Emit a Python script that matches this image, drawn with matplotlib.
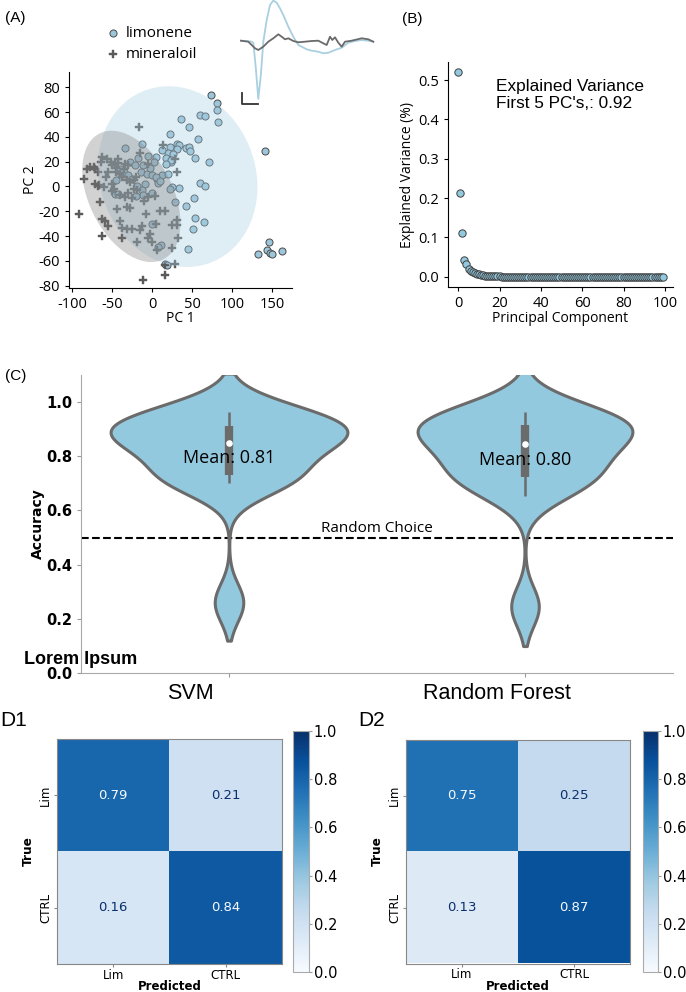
import numpy as np
import matplotlib
matplotlib.use("Agg")
import matplotlib.pyplot as plt
from matplotlib.patches import Ellipse

W, H = 686, 992
plt.rcParams['font.family'] = ['Open Sans', 'DejaVu Sans']
plt.rcParams['axes.unicode_minus'] = False


def box(left, top, w, h):
    # pixel rect (from top-left) -> figure fraction
    return [left / W, 1 - (top + h) / H, w / W, h / H]


# ---------------- panel A data (PCA scores) ----------------
lim_x = [74.2, 81.7, 81.7, 82.6, 36.7, 59.7, 65.9, 45.9, 57.6, 31.7, 33.4, 43.0, 46.3, 48.0,
         54.2, 71.3, 141.7, 60.1, 65.9, 33.8, 52.2, 43.0, 54.2, 65.1, 51.7, 45.1, 146.7, 143.4,
         148.0, 150.1, 132.6, 162.6,
         22.5, -12.9, -33.7, 22.5, 30.9, 19.6, 26.7, 17.1, 23.8, 5.0, 2.9, -17.1, -27.1, -21.2,
         -11.7, -37.9, -35.8, -29.6, -25.4, -13.7, -6.7, -0.4, 5.9, 12.1, 7.9, -19.2, -8.7, 24.6,
         -46.2, -42.1, -12.9, -10.8, 28.8, -0.4, 11.3, 7.9, 16.3, 18.4,
         12.1, 24.2, 17.9, 5.4, 9.6, 22.1, -5.0, -40.0, -45.0, -20.0, -3.0, 0.0, 20.0]
lim_y = [74.1, 67.6, 62.0, 52.5, 54.7, 57.9, 56.6, 48.0, 38.5, 34.0, 33.2, 31.5, 31.8, 28.3,
         23.2, 19.4, 28.6, 3.0, 0.6, -1.1, -8.9, -15.9, -25.6, -28.3, -34.5, -50.1, -45.2, -50.9,
         -53.6, -54.9, -54.9, -52.0,
         42.6, 34.5, 31.0, 31.8, 30.5, 27.2, 26.4, 22.9, 19.7, 23.7, 19.7, 22.9, 19.7, 17.0,
         17.0, 10.3, 11.6, 8.9, 6.2, 11.6, 10.3, 8.9, 6.2, 8.9, 3.0, 0.8, 2.2, -0.5,
         -5.9, -5.9, -3.2, -7.2, -12.6, -30.1, -47.1, -49.0, -62.5, -63.8,
         29.6, 21.5, 18.3, 7.5, 4.8, -1.9, 25.0, 14.0, 5.0, -8.0, 15.0, -5.0, 10.0]

oil_x = [-16.2, 14.2, -15.0, -42.9, -42.9, -62.9, -56.6, -63.7, -50.4, -46.2, -33.7, -29.6,
         -77.5, -73.3, -71.2, -67.1, -54.6, -45.4, -40.0, -85.8, -31.7, -27.5, -23.3, -71.2,
         -67.1, -60.8, -50.4, -23.3, -19.2, -50.4, -40.0, -33.7, -25.4, -4.6, 3.8, -65.0,
         -44.2, -31.7, -27.5, -92.1, 16.3, -62.9, -58.7, -40.0, -37.1, -31.7, -25.4, -12.9,
         24.6, 30.9, -2.5, -62.9, -19.2, -4.6, 0.4, 5.9, 24.6, 16.3, 28.8, 16.3, -11.7,
         28.4, 30.5, 30.5, 32.6,
         -45.0, -38.0, -35.0, -58.0, -48.0, -30.0, -20.0, -10.0, -5.0, -8.0, -15.0, 10.0,
         5.0, -55.0, -38.0, -82.0, -66.0, -52.0]
oil_y = [48.0, 33.2, 27.2, 22.4, 19.1, 23.7, 22.4, 19.7, 17.0, 18.3, 18.3, 17.0,
         15.6, 15.6, 13.8, 12.1, 11.6, 12.1, 10.3, 6.2, 4.9, 3.5, 4.9, 2.2,
         0.8, -0.5, 2.2, -1.9, -3.2, -4.0, -7.2, -8.6, -9.4, -8.6, -7.8, -12.6,
         -18.0, -16.7, -17.5, -22.1, -19.4, -26.6, -27.5, -27.5, -33.6, -34.2, -34.7, -32.0,
         -31.0, -31.5, -38.2, -40.1, -45.0, -41.7, -45.0, -50.9, -49.8, -63.8, -62.5, -71.4, -75.4,
         22.4, 11.6, -26.9, -41.7,
         15.0, 8.0, 14.0, 8.0, -2.0, -5.0, 8.0, -12.0, 18.0, -22.0, -35.0, -20.0,
         -30.0, -32.0, -42.0, 14.0, 1.0, 20.0]

# confidence ellipses: centre, width, height, angle (data units)
lim_ell = ((32.0, 8.0), 201.0, 144.0, -10.0)
oil_ell = ((-26.0, -8.0), 137.0, 87.0, -35.0)

# inset response traces (time, signal in a.u.)
lim_t = [6.0, 11.7, 16.7, 18.3, 20.7, 23.3, 26.0, 28.3, 31.7, 35.0, 38.3, 41.7, 45.0, 48.3,
         53.3, 58.3, 63.3, 66.7, 71.7, 76.7, 83.3, 88.3, 93.3, 100.0, 106.7, 113.3, 120.0,
         126.7, 133.3, 138.3]
lim_v = [0.3, 0.0, -0.7, -1.7, -25.7, -58.0, -32.3, -0.7, 21.0, 36.0, 40.5, 38.3, 32.7, 26.0,
         14.3, 4.3, -4.0, -5.7, -8.3, -9.7, -10.7, -12.3, -11.7, -9.0, -6.7, -1.7, 0.0,
         1.0, 0.3, -0.7]
oil_t = [6.0, 13.3, 20.0, 23.3, 28.3, 33.3, 38.3, 43.3, 46.7, 50.0, 53.3, 58.3, 63.3, 70.0,
         76.7, 83.3, 88.3, 91.7, 95.0, 97.3, 100.0, 103.3, 106.7, 110.0, 116.7, 126.7, 133.3, 138.3]
oil_v = [0.3, -0.7, -7.3, -9.0, -5.7, -0.7, 2.7, 6.7, 4.3, 1.7, 2.7, 0.0, -1.3, -0.7,
         0.0, 0.3, -2.3, -4.0, 4.3, 1.0, 3.7, -1.7, -5.7, -0.7, 0.3, 2.7, 1.7, -0.7]
scalebar_t, scalebar_v = 6.7, -63.0
scalebar_dt, scalebar_dv = 16.7, 10.7

# ---------------- panel B data ----------------
explained = [0.520, 0.213, 0.111, 0.042, 0.032, 0.021, 0.015, 0.012, 0.010, 0.008,
             0.006, 0.005, 0.004, 0.0030, 0.0025, 0.0020, 0.0016, 0.0013, 0.0011, 0.0009,
             0.0008, 0.0007, 0.0006, 0.0005, 0.0005, 0.0004, 0.0004, 0.0003, 0.0003, 0.0003,
             0.0002, 0.0002, 0.0002, 0.0002, 0.0002, 0.0001, 0.0001, 0.0001, 0.0001, 0.0001,
             0.0001, 0.0001, 0.0001, 0.0001, 0.0001, 0.0001, 0.0001, 0.0001, 0.0001, 0.0001,
             0.0001, 0.0001, 0.0001, 0.0001, 0.0001, 0.0001, 0.0001, 0.0001, 0.0001, 0.0001,
             0.0001, 0.0001, 0.0001, 0.0001, 0.0001, 0.0001, 0.0001, 0.0001, 0.0001, 0.0001,
             0.0001, 0.0001, 0.0001, 0.0001, 0.0001, 0.0001, 0.0001, 0.0001, 0.0001, 0.0001,
             0.0001, 0.0001, 0.0001, 0.0001, 0.0001, 0.0001, 0.0001, 0.0001, 0.0001, 0.0001,
             0.0001, 0.0001, 0.0001, 0.0001, 0.0001, 0.0001, 0.0001, 0.0001, 0.0001, 0.0001]

# ---------------- panel C data (cv accuracies) ----------------
models = ['SVM', 'Random Forest']
acc_svm = [0.26, 0.70, 0.715, 0.725, 0.735, 0.82, 0.84, 0.85, 0.87, 0.89, 0.905, 0.92, 0.94, 0.955, 0.965]
acc_rf = [0.245, 0.655, 0.71, 0.72, 0.73, 0.78, 0.82, 0.845, 0.87, 0.89, 0.90, 0.93, 0.94, 0.96, 0.965]
chance = 0.5

# ---------------- panel D data ----------------
classes = ['Lim', 'CTRL']
cm_svm = [[0.79, 0.21], [0.16, 0.84]]
cm_rf = [[0.75, 0.25], [0.13, 0.87]]

light_blue = '#93c9df'
violin_gray = '#6b6b6b'

fig = plt.figure(figsize=(W / 100, H / 100), dpi=100)

# ================= (A) =================
axA = fig.add_axes(box(69, 72, 223, 216))
axA.scatter(lim_x, lim_y, s=26, marker='o', facecolor='#9cc6da', edgecolor='#4a4a4a',
            linewidth=0.7, label='limonene', zorder=2)
axA.scatter(oil_x, oil_y, s=34, marker='P', facecolor='#5a5a5a', edgecolor='#5a5a5a',
            linewidth=0.3, label='mineraloil', zorder=2)
for (c, w, h, a), col, al in [(lim_ell, '#a6cee3', 0.35), (oil_ell, 'gray', 0.35)]:
    axA.add_patch(Ellipse(c, w, h, angle=a, facecolor=col, edgecolor='none', alpha=al, zorder=3))
axA.set_xlim(-104, 175)
axA.set_ylim(-82, 92.5)
axA.set_xticks([-100, -50, 0, 50, 100, 150])
axA.set_yticks(np.arange(-80, 81, 20))
axA.tick_params(labelsize=10.5, length=3, width=0.8)
axA.set_xlabel('PC 1', fontsize=10, labelpad=-1)
axA.set_ylabel('PC 2', fontsize=10, labelpad=0)
for s in ['top', 'right']:
    axA.spines[s].set_visible(False)
axA.legend(loc='center', bbox_to_anchor=(151 / W, 1 - 44 / H), bbox_transform=fig.transFigure,
           frameon=False, fontsize=11, handlelength=1.0, handletextpad=0.35, labelspacing=0.45,
           borderpad=0)

axIn = fig.add_axes(box(235, 0, 145, 110))
axIn.plot(lim_t, lim_v, color='#a9d0e0', lw=1.3)
axIn.plot(oil_t, oil_v, color='#6a6a6a', lw=1.3)
axIn.plot([scalebar_t, scalebar_t, scalebar_t + scalebar_dt],
          [scalebar_v + scalebar_dv, scalebar_v, scalebar_v], color='#333333', lw=1.3)
axIn.set_xlim(0, 145)
axIn.set_ylim(-69, 41)
axIn.axis('off')

fig.text(5 / W, 1 - 18 / H, '(A)', fontsize=11, family='Liberation Sans', va='center')

# ================= (B) =================
axB = fig.add_axes(box(448, 62, 225, 225))
pcs = np.arange(len(explained))
axB.scatter(pcs, explained, s=28, facecolor=light_blue, edgecolor='#3f3f3f', linewidth=0.7, zorder=2)
axB.set_xticks([0, 20, 40, 60, 80, 100])
axB.set_yticks([0.0, 0.1, 0.2, 0.3, 0.4, 0.5])
axB.tick_params(labelsize=10.5, length=3, width=0.8)
axB.set_xlabel('Principal Component', fontsize=10, labelpad=0)
axB.set_ylabel('Explained Variance (%)', fontsize=10, labelpad=2)
for s in ['top', 'right']:
    axB.spines[s].set_visible(False)
axB.text(0.213, 0.925, "Explained Variance\nFirst 5 PC's,: %.2f" % sum(explained[:5]),
         transform=axB.transAxes, fontsize=12.4, family='Liberation Sans', va='top', ha='left',
         linespacing=1.15)
fig.text(402 / W, 1 - 19 / H, '(B)', fontsize=11, family='Liberation Sans', va='center')

# ================= (C) =================
axC = fig.add_axes(box(81, 375, 592, 298))
groups = [np.array(acc_svm), np.array(acc_rf)]
bw_factor, cut = 0.40, 2
curves = []
for g in groups:
    bw = bw_factor * g.std(ddof=1)
    grid = np.linspace(g.min() - cut * bw, g.max() + cut * bw, 300)
    z = (grid[:, None] - g[None, :]) / bw
    dens = np.exp(-0.5 * z ** 2).sum(1) / (len(g) * bw * np.sqrt(2 * np.pi))
    curves.append((grid, dens))
peak = max(d.max() for _, d in curves)
for pos, (g, (grid, dens)) in enumerate(zip(groups, curves)):
    half = 0.4 * dens / peak
    axC.fill_betweenx(grid, pos - half, pos + half, facecolor=light_blue, edgecolor=violin_gray,
                      linewidth=2.2, zorder=2)
    q1, med, q3 = np.percentile(g, [25, 50, 75])
    lim = 1.5 * (q3 - q1)
    lo = g[g >= q1 - lim].min()
    hi = g[g <= q3 + lim].max()
    axC.plot([pos, pos], [lo, hi], color=violin_gray, lw=1.8, solid_capstyle='butt', zorder=3)
    axC.plot([pos, pos], [q1, q3], color=violin_gray, lw=6, solid_capstyle='butt', zorder=3)
    axC.scatter([pos], [med], s=14, color='white', zorder=4)
    axC.text(pos, g.mean() - 0.012, 'Mean: %.2f' % g.mean(), ha='center', va='center', fontsize=13,
             zorder=5)
axC.axhline(chance, color='black', ls='--', lw=1.5, zorder=1)
axC.text(0.5, chance + 0.006, 'Random Choice', transform=axC.get_yaxis_transform(),
         ha='center', va='bottom', fontsize=11)
axC.set_xlim(-0.5, 1.5)
axC.set_ylim(0, 1.1)
axC.set_yticks([0.0, 0.2, 0.4, 0.6, 0.8, 1.0])
axC.set_xticks([0, 1])
axC.set_xticklabels(['', ''])
axC.set_yticklabels(['%.1f' % v for v in axC.get_yticks()], fontweight='bold', family='DejaVu Sans',
                    fontsize=10.5)
axC.tick_params(colors='#999999', length=3, width=0.8, labelcolor='black')
for s in ['top', 'right']:
    axC.spines[s].set_visible(False)
for s in ['left', 'bottom']:
    axC.spines[s].set_color('#a8a8a8')
axC.set_ylabel('Accuracy', fontweight='bold', family='DejaVu Sans', fontsize=10, labelpad=1)
for xl, name in zip([-0.13, 0.906], models):
    axC.text(xl, -0.07, name, transform=axC.get_xaxis_transform(), ha='center', va='center',
             fontsize=15.5, family='Liberation Sans')
fig.text(24 / W, 1 - 660 / H, 'Lorem Ipsum', fontsize=13, fontweight='bold', family='Liberation Sans',
         va='center')
fig.text(5 / W, 1 - 376 / H, '(C)', fontsize=11, family='Liberation Sans', va='center')

# ================= (D) =================
cmap = plt.get_cmap('Blues')
for cm, rect, crect, tag, tagx in [(cm_svm, (57, 731, 225, 241), (293, 731, 16, 241), 'D1', 0),
                                   (cm_rf, (406, 731, 224, 241), (643, 731, 15, 241), 'D2', 358)]:
    ax = fig.add_axes(box(*rect))
    cax = fig.add_axes(box(*crect))
    cm = np.array(cm)
    im = ax.imshow(cm, cmap=cmap, vmin=0, vmax=1, interpolation='nearest')
    thresh = (cm.max() + cm.min()) / 2
    for i in range(2):
        for j in range(2):
            col = cmap(1.0) if cm[i, j] < thresh else cmap(0.0)
            ax.text(j, i, format(cm[i, j], '.2g'), ha='center', va='center', color=col,
                    fontsize=9.5, family='DejaVu Sans')
    ax.set_xticks([0, 1])
    ax.set_xticklabels(classes, family='DejaVu Sans', fontsize=8.5)
    ax.set_yticks([0, 1])
    ax.set_yticklabels(classes, family='DejaVu Sans', fontsize=8.5, rotation=90, va='center')
    ax.tick_params(length=2.5, width=0.8, color='#888888', pad=1)
    for s in ax.spines.values():
        s.set_color('#888888')
    ax.set_xlabel('Predicted', fontweight='bold', family='DejaVu Sans', fontsize=8.5, labelpad=-1)
    ax.set_ylabel('True', fontweight='bold', family='DejaVu Sans', fontsize=8.7, labelpad=3)
    cb = fig.colorbar(im, cax=cax)
    cb.set_ticks([0.0, 0.2, 0.4, 0.6, 0.8, 1.0])
    cb.ax.tick_params(labelsize=10.5, length=2.5, width=0.8, color='#999999', pad=1)
    for lab in cb.ax.get_yticklabels():
        lab.set_family('DejaVu Sans')
    cb.outline.set_edgecolor('#aaaaaa')
    fig.text(tagx / W, 1 - 720 / H, tag, fontsize=15, family='Liberation Sans', va='center')

fig.savefig('out.png', dpi=100)
